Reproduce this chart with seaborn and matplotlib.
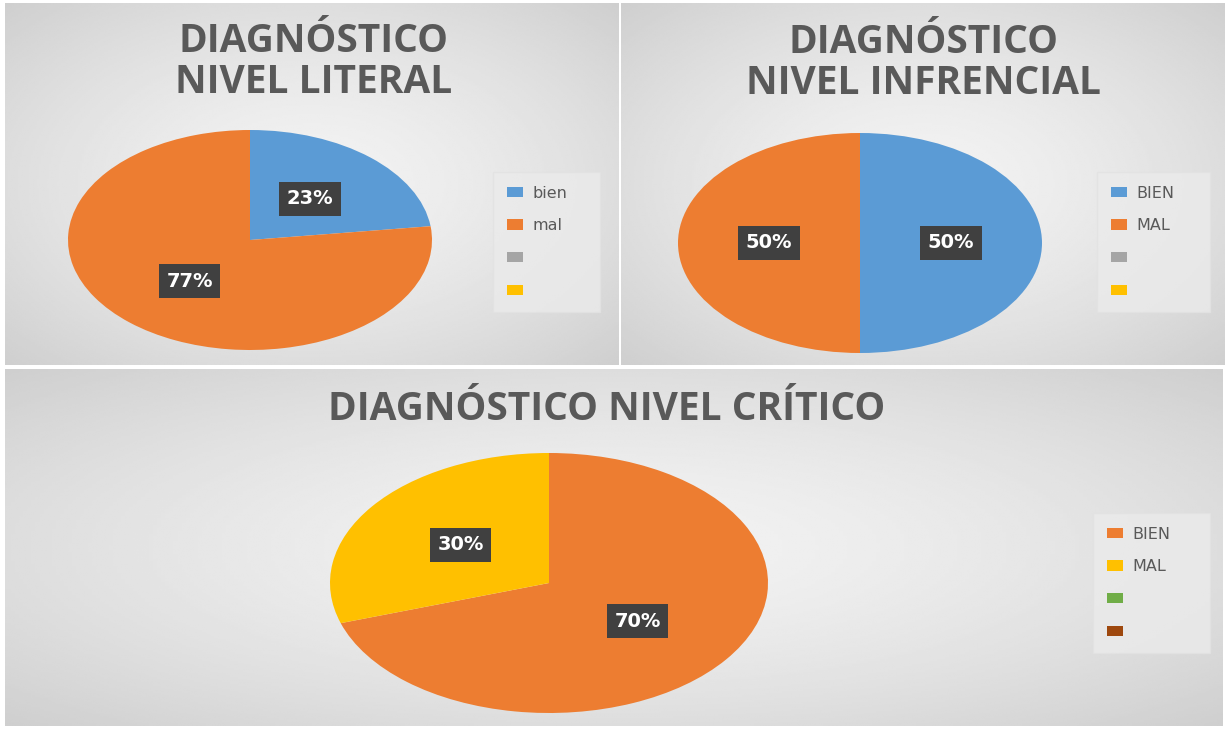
"""
Diagnóstico por nivel de lectura
================================
Three pie charts (literal, inferencial, crítico) drawn on gradient panels.
"""
import numpy as np
import matplotlib
matplotlib.use("Agg")
import matplotlib.pyplot as plt
from matplotlib.patches import Patch
import seaborn as sns

W, H = 1227, 731

# --- data -----------------------------------------------------------------
literal_labels = ["bien", "mal", "", ""]
literal_values = [23, 77, 0, 0]

inferencial_labels = ["BIEN", "MAL", "", ""]
inferencial_values = [50, 50, 0, 0]

critico_labels = ["BIEN", "MAL", "", ""]
critico_values = [70, 30, 0, 0]

titles = ["DIAGNÓSTICO\nNIVEL LITERAL", "DIAGNÓSTICO\nNIVEL INFRENCIAL",
          "DIAGNÓSTICO NIVEL CRÍTICO"]

office = sns.color_palette(["#5B9BD5", "#ED7D31", "#A5A5A5", "#FFC000",
                            "#70AD47", "#9E480E"])
top_colors = [office[0], office[1], office[2], office[3]]
bottom_colors = [office[1], office[3], office[4], office[5]]

sns.set_theme(style="white")
plt.rcParams["font.family"] = ["Open Sans", "DejaVu Sans"]
TITLE_COLOR = "#595959"


def px_rect(x0, y0, x1, y1):
    """Pixel box (top-left origin) -> figure rect."""
    return [x0 / W, 1 - y1 / H, (x1 - x0) / W, (y1 - y0) / H]


def gradient_panel(fig, box):
    ax = fig.add_axes(px_rect(*box), zorder=0)
    yy, xx = np.mgrid[-1:1:200j, -1:1:300j]
    r = np.sqrt(xx ** 2 + yy ** 2) / np.sqrt(2)
    val = 0.95 - 0.14 * r ** 1.5
    ax.imshow(val, cmap="gray", vmin=0, vmax=1, aspect="auto",
              extent=[0, 1, 0, 1], interpolation="bilinear")
    ax.set_axis_off()
    return ax


def pie_panel(fig, center, rx, ry, values, colors):
    cx, cy = center
    ax = fig.add_axes(px_rect(cx - rx, cy - ry, cx + rx, cy + ry), zorder=2)
    _, _, autotexts = ax.pie(
        values, colors=colors, startangle=90, counterclock=False, radius=1,
        autopct=lambda p: f"{p:.0f}%" if p > 0 else "", pctdistance=0.5,
        wedgeprops=dict(linewidth=0),
        textprops=dict(color="white", fontweight="bold", fontsize=14,
                       family="DejaVu Sans"))
    for t in autotexts:
        if t.get_text():
            t.set_bbox(dict(boxstyle="square,pad=0.38", fc="#404040", ec="none"))
    ax.set_aspect("auto")
    ax.set_xlim(-1, 1)
    ax.set_ylim(-1, 1)
    ax.set_axis_off()
    return ax


def add_legend(fig, box, labels, colors):
    x0, y0, x1, y1 = box
    handles = [Patch(facecolor=c, edgecolor="none") for c in colors]
    leg = fig.legend(handles, labels, loc="upper left", mode="expand",
                     bbox_to_anchor=(x0 / W, 1 - y1 / H, (x1 - x0) / W, (y1 - y0) / H),
                     bbox_transform=fig.transFigure, borderaxespad=0,
                     handlelength=1.0, handleheight=0.6, handletextpad=0.6,
                     labelspacing=1.1, borderpad=0.85,
                     frameon=True, fancybox=False,
                     prop=dict(family="DejaVu Sans", size=11.5))
    leg.get_frame().set_facecolor("#ebebeb")
    leg.get_frame().set_edgecolor("#e2e2e2")
    for t in leg.get_texts():
        t.set_color(TITLE_COLOR)
    leg.set_zorder(5)
    return leg


fig = plt.figure(figsize=(W / 100, H / 100), dpi=100)
fig.patch.set_facecolor("white")

gradient_panel(fig, (5, 3, 619, 365))
gradient_panel(fig, (621, 3, 1225, 365))
gradient_panel(fig, (5, 369, 1223, 726))

pie_panel(fig, (250, 240), 182, 110, literal_values, top_colors)
pie_panel(fig, (860, 243), 182, 110, inferencial_values, top_colors)
pie_panel(fig, (549, 583), 219, 130, critico_values, bottom_colors)

title_kw = dict(ha="center", va="center", fontsize=28, fontweight="bold",
                color=TITLE_COLOR, linespacing=1.05, zorder=5)
fig.text(314 / W, 1 - 62 / H, titles[0], **title_kw)
fig.text(924 / W, 1 - 63 / H, titles[1], **title_kw)
fig.text(607 / W, 1 - 410 / H, titles[2], **title_kw)

add_legend(fig, (493, 172, 600, 306), literal_labels, top_colors)
add_legend(fig, (1097, 172, 1210, 308), inferencial_labels, top_colors)
add_legend(fig, (1093, 513, 1210, 652), critico_labels, bottom_colors)

fig.savefig("out.png", dpi=100)
